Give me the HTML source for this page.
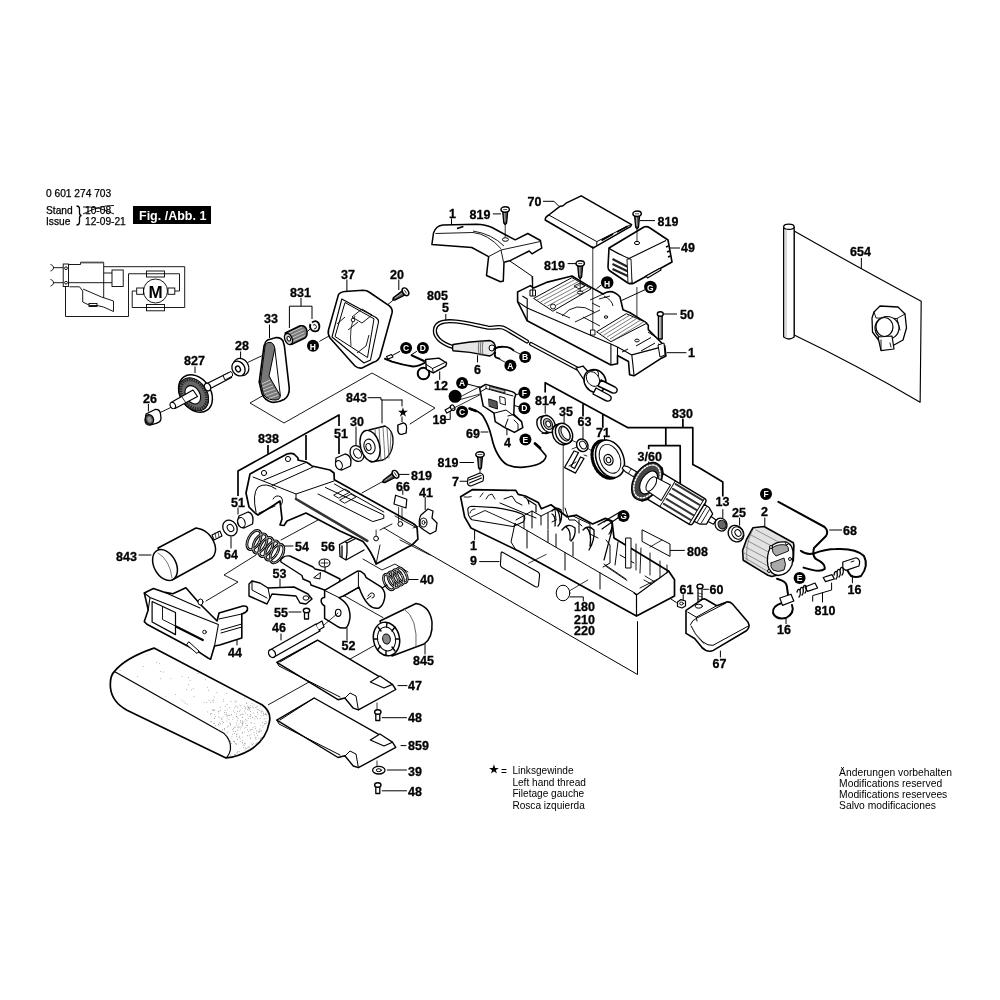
<!DOCTYPE html>
<html><head><meta charset="utf-8"><style>
html,body{margin:0;padding:0;background:#fff;width:1000px;height:1000px;overflow:hidden}
svg{display:block;will-change:transform}
.lb text{font-family:"Liberation Sans",sans-serif;font-weight:bold;font-size:12.5px;fill:#000;stroke:#000;stroke-width:0.3}
.sm text{font-family:"Liberation Sans",sans-serif;font-size:10.2px;fill:#000;stroke:#000;stroke-width:0.25}
</style></head><body>
<svg width="1000" height="1000" viewBox="0 0 1000 1000">
<rect width="1000" height="1000" fill="#fff"/>
<defs>
<g id="scr" stroke="#000" fill="#fff" stroke-linejoin="round">
<path d="M-2.6,1 L2.6,1 L1.4,13.5 L0,15 L-1.4,13.5 Z" stroke-width="1.3" fill="#555"/>
<path d="M-0.6,3 L-0.3,12" stroke="#ddd" stroke-width="0.6"/>
<ellipse cx="0" cy="0" rx="4.2" ry="2.7" stroke-width="1.5"/>
<path d="M-2,0 H2" stroke-width="0.7"/>
</g>
<g id="bolt" stroke="#000" fill="#fff" stroke-linejoin="round">
<path d="M-1.9,1 L1.9,1 L1.9,25 L-1.9,25 Z" stroke-width="1.3" fill="#999"/>
<path d="M-0.5,3 V24" stroke="#eee" stroke-width="0.6"/>
<ellipse cx="0" cy="0" rx="3" ry="2.2" stroke-width="1.4"/>
</g>
<g id="sscr" stroke="#000" fill="#fff" stroke-linejoin="round">
<path d="M-2,1 L2,1 L2,9 L-2,9 Z" stroke-width="1.3"/>
<ellipse cx="0" cy="0.5" rx="3.2" ry="2.2" stroke-width="1.4"/>
</g>
</defs>
<!-- header -->
<g class="sm">
<text x="46" y="197">0 601 274 703</text>
<text x="46" y="214">Stand</text>
<text x="46" y="225">Issue</text>
<text x="85" y="214">10-08</text>
<text x="85" y="225">12-09-21</text>
</g>
<path d="M83,207 Q98,206 114,214 M83,214 Q100,205 114,205.5" stroke="#000" stroke-width="0.9" fill="none"/>
<path d="M76.5,206 Q79.5,206 79.5,209 L79.5,213 Q79.5,215.3 81.5,215.5 Q79.5,215.8 79.5,218 L79.5,222 Q79.5,225 76.5,225" stroke="#000" stroke-width="1.3" fill="none"/>
<rect x="133" y="206" width="78" height="18" fill="#000"/>
<text x="139" y="220" style="font-family:'Liberation Sans';font-weight:bold;font-size:12.5px;fill:#fff">Fig. /Abb. 1</text>
<!-- circuit -->
<g stroke="#000" stroke-width="0.9" fill="none">
<path d="M50.5,264.5 C54.5,265.5 54.5,270 50.5,271 M53,267.7 H63.2 M50.5,279.5 C54.5,280.5 54.5,285 50.5,286 M53,282.7 H63.2"/>
<rect x="63.2" y="264" width="5.3" height="22.5"/>
<circle cx="66" cy="268.2" r="1.4"/><circle cx="66" cy="282.7" r="1.4"/>
<path d="M68.5,264.5 H80.5 V262.5 H103.7 V298 M68.5,282.7 H112 M103.7,266.7 H184.7 V307.5 H132.2 V291 H136.7"/>
<path d="M80.5,262.5 H103.7" stroke-width="1.8" stroke="#555"/>
<rect x="112" y="270" width="11.2" height="16.5"/>
<path d="M103.7,273 H112"/>
<path d="M65.5,286.5 V316.5 H128.5 V273.75 H179.5 V291 H175"/>
<circle cx="155.5" cy="291" r="12"/>
<rect x="136.7" y="288" width="6.8" height="6.3"/><rect x="168" y="288" width="6.8" height="6.3"/>
<rect x="146.5" y="271" width="18" height="6"/><rect x="146.5" y="304.5" width="18" height="6.3"/>
<path d="M69.5,286.8 H79.5 L82.7,291 V302 L90,305.5 H97 L103.5,307 L113.5,311.5 V301 L101.5,297 L83,289"/>
<rect x="89" y="303.5" width="8" height="3"/>
</g>
<text x="148.5" y="297.5" style="font-family:'Liberation Sans';font-weight:bold;font-size:17px">M</text>
<!-- region A: 26, 827, 28, 33, 831, 37, 20 -->
<g stroke="#000" stroke-width="1.3" fill="#fff" stroke-linejoin="round">
<!-- leaders -->
<path d="M195,366.5 V373 M148.4,404 V411.5 M240.6,351.5 V359.5 M269.5,324.5 V338 M301,298 V306.2 M289.4,328 V306.2 H312 V319 M346.9,279.5 V292.3 M398.8,279.5 V290" fill="none" stroke-width="1"/>
<!-- axis lines -->
<path d="M159.6,412.8 L171,407.4 M247.8,362.4 L270.4,351.8 M319.4,341.4 L352,323 M375.8,314.4 L394,299.5 M307,332 L311,328" fill="none" stroke-width="0.9"/>
<!-- roller 26 -->
<path d="M146,414 L155,409.5 Q160,409 160.5,414 L161,418 Q161,422 157,423 L150,425 Q145.5,425.5 145,420.5 Z"/>
<ellipse cx="149.5" cy="419.5" rx="4" ry="5" transform="rotate(-20 149.5 419.5)" fill="#555"/>
<ellipse cx="149.5" cy="419.5" rx="2" ry="3" transform="rotate(-20 149.5 419.5)" fill="#999" stroke="none"/>
<!-- gear 827 -->
<ellipse cx="195.5" cy="393.5" rx="15" ry="20.3" transform="rotate(-35 195.5 393.5)" stroke-width="1.5"/>
<ellipse cx="193.8" cy="394.3" rx="13" ry="18" transform="rotate(-35 193.8 394.3)" fill="#666" stroke="#000" stroke-width="1"/>
<ellipse cx="193.8" cy="394.3" rx="11.5" ry="16" transform="rotate(-35 193.8 394.3)" fill="none" stroke="#222" stroke-width="3.2" stroke-dasharray="1.3 1.1"/>
<ellipse cx="192.8" cy="394.8" rx="7" ry="9.8" transform="rotate(-32 192.8 394.8)" fill="#fff" stroke-width="1.1"/>
<path d="M171,402.5 L193,390 L197.5,396.5 L175,408.5 Z" stroke-width="1.2"/>
<path d="M182,397 L186,403" fill="none" stroke-width="0.8"/>
<ellipse cx="172.8" cy="405.5" rx="2.5" ry="3.3" transform="rotate(-30 172.8 405.5)" stroke-width="1.1"/>
<!-- shaft upper -->
<path d="M206,384 L229,372.5 L231.5,377.5 L208.5,389.5 Z"/>
<path d="M223,375.5 L231,371.5 Q233,373 232.5,376 L225,380 Z" stroke-width="1"/>
<ellipse cx="207.5" cy="387" rx="3" ry="4" transform="rotate(-25 207.5 387)"/>
<!-- bearing 28 -->
<ellipse cx="241" cy="367" rx="7.5" ry="9" transform="rotate(-30 241 367)"/>
<ellipse cx="238.5" cy="368.5" rx="6.2" ry="7.8" transform="rotate(-30 238.5 368.5)"/>
<ellipse cx="238" cy="369" rx="2.3" ry="3" transform="rotate(-30 238 369)"/>
<!-- belt 33 -->
<path d="M264.8,344 Q266,340 270,339.3 L276.4,337.6 Q281,337.3 283,341 L284.4,346 L289.2,387.6 Q289.8,396 284,399.5 Q278,402.8 272,402.3 Q264,400 262,393.5 L259.2,382 L264,346 Z" stroke-width="1.6"/>
<path d="M265.2,345 Q267.5,341.2 271.5,342.6 Q274.5,344.5 274.8,348.5 L269,376 L280.2,395.5 Q280.5,399.5 276,400 Q268,400.5 263.5,394.5 L260.5,382 Z" fill="#777" stroke-width="1"/>
<path d="M262,384 L270,380 M262.5,387 L271.5,383 M263,390 L273,386 M264,393 L275,389 M266,396 L277,392 M269,398.5 L278.5,395" fill="none" stroke="#fff" stroke-width="0.6"/>
<path d="M274.8,348.5 L280.4,396" fill="none" stroke-width="1"/>
<!-- pinion 831 -->
<path d="M285.2,333 L300.2,325.8 Q306,325 307,331 Q307.5,336 305,338 L291.8,344.4 Z" stroke-width="1.5" fill="#777"/>
<path d="M289,333 L302,327 M289.5,336 L303.5,329.5 M290,339 L304.5,332.5 M291,342 L305,335.5" stroke="#eee" stroke-width="0.7" fill="none"/>
<ellipse cx="288.5" cy="339" rx="3.6" ry="5.8" transform="rotate(-25 288.5 339)" stroke-width="1.4" fill="#ccc"/>
<ellipse cx="288.8" cy="338.8" rx="1.6" ry="2.4" transform="rotate(-25 288.8 338.8)" stroke-width="0.9"/>
<!-- nut -->
<path d="M312,322.5 Q316,319.5 318.5,323 Q320.5,327 318,330.5 Q315,332.5 311.5,330 M311.5,330 Q309,327 310.5,324" fill="none" stroke-width="1.8"/>
<path d="M313,325 Q315.5,323.5 316.5,326.5 Q316.5,329 314,329" fill="none" stroke-width="0.9"/>
<!-- H -->
<circle cx="313" cy="345.8" r="6" fill="#000" stroke="none"/>
<!-- cover 37 -->
<path d="M338.4,294.9 Q340,292 345,291.5 L363,290.3 Q367,290.5 369,292 L389.4,305.9 Q393,309 392,313 L380,356.5 Q378,361 374,362 L362,368 Q358,368.5 355,366 L330,338 Q327.5,334 328.5,330 Z" stroke-width="1.6"/>
<path d="M341.8,299 L376,317.5 Q379,319.5 378.5,322 L370.5,360 L364,363 L332,337 Z" stroke-width="1.1"/>
<path d="M345,302.5 L374,318.8 L367.5,357.5 L335,336.5 Z" stroke-width="1"/>
<path d="M352,317 L362,309 L372,315 L362,323 Z M337,324 L345,317 M357,353 L366,346 L369,335 M348,330 L358,322" fill="none" stroke-width="0.9"/>
<path d="M355,316 Q349,327 351,346" fill="none" stroke-width="0.8"/>
<circle cx="353" cy="320" r="1.8" stroke-width="0.9"/>
<!-- screw 20 -->
<use href="#scr" transform="translate(405.5,291.8) rotate(58)"/>
</g>
<text x="309.7" y="349.8" style="font-family:'Liberation Sans';font-weight:bold;font-size:8.5px;fill:#fff">H</text>
<!-- region B: cover1 top, 819, 70, 49, housing top, 50, cord -->
<g stroke="#000" stroke-width="1.3" fill="#fff" stroke-linejoin="round">
<path d="M451.5,218.5 V224.5 M492.8,213.9 H501 M543,201.3 H554 L558.6,206 M567.6,263.6 H576.6 M640,220.6 H655 M596.4,288.8 L600.9,285.2 M621.6,300.5 L645,289.7 M662.5,314 H677 M666.6,352.7 H686.4 M669,248 H680 M509.6,260.8 L532,276.2 L532.7,290" fill="none" stroke-width="1"/>
<!-- cover 1 top -->
<path d="M431.9,244.5 L433.5,233 Q436,225.5 443,225 L476,224.2 Q486,224.5 492,227.5 L504,234 L515.2,239.8 L527.8,233.5 L540.4,240.5 L541.8,248.2 L539,249.6 L532,253.8 L529.2,251 L518,256.6 L509.6,260.8 L504,262.2 L503.3,281.1 L500.5,281.8 L486.5,275.5 L488.6,256.6 L471.8,247.5 Z" stroke-width="1.5"/>
<path d="M435.4,233.5 L473,232.5 Q488,234 501.2,248.9 M473,231 Q492,234 504,246 M488.6,256.6 L501,250 L540.4,241.5 M501,250 L503.5,262" fill="none" stroke-width="0.9"/>
<path d="M457,228.6 L463.4,226.6" stroke-width="1.6"/>
<ellipse cx="505.4" cy="239.5" rx="3" ry="1.8" stroke-width="1"/>
<path d="M505.2,224 V237.5" stroke-width="0.8"/>
<use href="#scr" x="505.2" y="209.5"/>
<!-- cover 70 -->
<path d="M545.2,220 Q545,217 548.8,215 L559.6,206.6 L563,205.8 L566,203.2 L581.2,195.8 L631.6,224.6 L630.4,226.6 L596.8,245.8 L593.2,248 Z" stroke-width="1.5"/>
<path d="M548.8,215 L596.8,241.6 L630.4,224.8 M596.8,241.6 L596.8,245.8" fill="none" stroke-width="1"/>
<path d="M601.5,240.5 L613,234 M617,232 L627.5,226.2" fill="none" stroke-width="1.8"/>
<!-- cover 49 -->
<path d="M609,248 L644,227 Q647,226 650,228 L668,240 L672,262 L634,283 Q631,284.5 628,283 L610,271 Q608,270 608,267 Z" stroke-width="1.6"/>
<path d="M609,248 Q612,251 629,258.5 L666,240.5 M629,258.5 L632,283" fill="none" stroke-width="1.1"/>
<path d="M612.5,259 L629,267.5 M612.5,264 L630,272.5 M612.5,269 L631,277.5" fill="none" stroke="#222" stroke-width="2.2"/>
<path d="M627,259 L631,259 L632,283 L628,283 Z" fill="#fff" stroke-width="0.9"/>
<path d="M646,276 L659.5,268.5 Q661,268.5 661,270 L647.5,278 Z" stroke-width="1.2"/>
<path d="M666,247 L668.5,246 M667,252 L669.5,251 M668,257 L670.5,256" fill="none" stroke-width="1.6"/>
<ellipse cx="637" cy="243" rx="2.6" ry="1.6" stroke-width="1"/>
<path d="M637,229 V241" stroke-width="0.8"/>
<path d="M636.9,287 V339" stroke-width="0.8"/>
<use href="#scr" x="637.1" y="213.8"/>
<!-- housing top 1 -->
<path d="M517.6,292 L520.8,290.4 L530.4,285.6 L533.6,288 L546.4,282.4 L572,276 L588,285.6 L603,294 Q612,288 620,297 L623,309.8 L629.6,312.5 L645,321.9 L648.3,325.2 L648.3,329.6 L656,337.3 L664.8,346.1 L665.9,356 L661.5,358.2 L634,375.8 L629.6,374.7 L628.5,361.5 L617.5,355.5 L617.5,363.7 L610.9,365 L527.2,320.8 L522.4,311.2 L517.6,301.6 Z" stroke-width="1.6"/>
<path d="M517.6,301.6 L527.2,308 L610.9,343.9 M527.2,308 V320.8 M522.4,296 L527.2,299 L527.2,308 M610.9,343.9 V365 M610.9,343.9 L617.5,347 L631.8,354.9 L634,375 M631.8,354.9 L664.8,346.1 M617.5,347 V355.5" fill="none" stroke-width="1.1"/>
<path d="M533.6,298.4 L572,277.6 L591.2,288.8 L552.8,311.2 Z" fill="#fff" stroke-width="1"/>
<path d="M537,300 L575,279.5 M540.5,302 L578.5,281.5 M544,304 L582,283.5 M547.5,306 L585.5,285.5 M551,308 L589,287.5" stroke="#444" stroke-width="0.7" fill="none"/>
<path d="M596.6,331.8 L626.3,313.7 L647.2,323 L610.9,341.7 Z" fill="#fff" stroke-width="1"/>
<path d="M600,333.5 L629.5,315.3 M603.5,335.3 L633,317 M607,337.1 L636.5,318.7 M610,339 L640,320.4 M613,340.5 L643.5,322" stroke="#444" stroke-width="0.7" fill="none"/>
<path d="M636,346 L651,337.5 M641,351 L655,343 M622,352 L628,349 M648,332 L656,337.3 M658,344 L664.8,346.1" fill="none" stroke-width="1"/>
<path d="M658,345 L664,343 L665,355 L660,357 Z" stroke-width="1"/>
<path d="M556,312 L570,318 M562,316 Q576,300 594,312 M575,322 L600,310 M590,300 L604,293.6 M592,303 L600,307 M599,299 L610,296" fill="none" stroke-width="0.9"/>
<path d="M604,296 Q612,300 613,306 M583,317 L600,326" fill="none" stroke-width="0.9"/>
<circle cx="553" cy="306.5" r="2.5" stroke-width="0.9"/>
<ellipse cx="580.2" cy="292.5" rx="2.8" ry="1.6" stroke-width="1"/>
<ellipse cx="606" cy="317" rx="1.8" ry="1.2" stroke-width="1"/>
<ellipse cx="637" cy="340.5" rx="2.2" ry="1.4" stroke-width="1"/>
<path d="M592.8,246 V330" stroke-width="0.8"/>
<path d="M590.5,330 L595,330 L595,335 L590.5,335 Z" stroke-width="0.9"/>
<path d="M532.7,276 V296 M530,296 L535.5,296 L535.5,290 L530,290 Z" fill="none" stroke-width="1"/>
<path d="M574,286 L580,283 L585,286 L579,289 Z" fill="none" stroke-width="0.9"/>
<!-- screw 819 middle -->
<use href="#scr" x="580.2" y="263.5"/>
<path d="M580.2,278 V292" stroke-width="0.8"/>
<!-- screw 50 -->
<use href="#bolt" x="660.3" y="314"/>
<!-- H, G -->
<circle cx="607.2" cy="282.5" r="6.3" fill="#000" stroke="none"/>
<circle cx="650.4" cy="287" r="6.3" fill="#000" stroke="none"/>
</g>
<g style="font-family:'Liberation Sans';font-weight:bold;font-size:8.5px;fill:#fff">
<text x="604" y="286.5">H</text><text x="647" y="290.5">G</text>
</g>
<!-- region C: cord 805, plug, 12, switch 4, 69, 18, circles -->
<g stroke="#000" stroke-width="1.3" fill="#fff" stroke-linejoin="round" stroke-linecap="round">
<!-- leaders -->
<path d="M445.8,314.4 V322.5 M477.5,355.7 V362 M439.7,371.8 V379.5 M444.6,419.4 H450.2 V411 M506.9,427.8 V434.8 M481,432 H488 M399.7,351.5 L391.3,356 M416.5,351.5 L410.9,355 M467,384 L479.6,387.2 M513,395 L519,394 M502,401 L519,407" fill="none" stroke-width="1"/>
<!-- cord loop -->
<path d="M453,347 C440,343 434,336 435,329.5 C436,322 446,320.5 456,321.5 C468,322.5 478,326 488,327.6 C496,328.5 500,325 506,329 L527,341.5" fill="none" stroke="#000" stroke-width="4.2"/>
<path d="M453,347 C440,343 434,336 435,329.5 C436,322 446,320.5 456,321.5 C468,322.5 478,326 488,327.6 C496,328.5 500,325 506,329 L527,341.5" fill="none" stroke="#fff" stroke-width="1.6"/>
<path d="M531,344 L578,369" fill="none" stroke="#000" stroke-width="4.2"/>
<path d="M531,344 L578,369" fill="none" stroke="#fff" stroke-width="1.6"/>
<!-- connector 6 -->
<path d="M453,344.5 Q452,347.5 453,350.8 L470,352.4 L489.6,356 Q495.5,354 495.5,348 Q495,341.5 489.6,340.5 L470,342 Z" stroke-width="1.4" fill="#e6e6e6"/>
<path d="M479,341.2 Q477.5,348 479,355 M481,341 Q479.5,348 481,355.3 M483,340.8 Q481.5,348 483,355.6" stroke="#555" stroke-width="0.8" fill="none"/>
<circle cx="492" cy="348" r="3" stroke-width="1" fill="#fff"/>
<path d="M494,349 Q498,346.5 503.6,346.8 Q509,346.5 513.4,350.3" fill="none" stroke-width="1.8"/>
<path d="M495.2,352.4 Q494,356 496,357.5 L499.4,358.7" fill="none" stroke-width="1.8"/>
<path d="M514,351 L519.7,353.8 M500,359.4 L505,362.2" fill="none" stroke-width="0.9"/>
<!-- plug -->
<path d="M576,368 L583,366 L590,374 L584,380 Z" stroke-width="1.3"/>
<ellipse cx="595" cy="381" rx="10.5" ry="12" transform="rotate(-35 595 381)" stroke-width="1.5"/>
<ellipse cx="593" cy="379" rx="6" ry="8" transform="rotate(-35 593 379)" fill="none" stroke-width="0.9"/>
<path d="M590,371 L596,370 Q600,373 598,376" fill="none" stroke-width="1"/>
<path d="M601,380 L615,387 Q618.5,389 616.5,392 Q614.5,394 611.5,392.5 L598,386 Z" stroke-width="1.4"/>
<path d="M596,388 L609,395 Q612.5,397 610.5,400 Q608.5,402 605.5,400.5 L593,394 Z" stroke-width="1.4"/>
<!-- part 12 -->
<path d="M385,358.8 L392,361.6 Q403,365 413,366.5 Q420,366 426,362" fill="none" stroke-width="2"/>
<path d="M386.5,356.5 L391.5,354.5 L393,357 L388,359 Z" stroke-width="1.1"/>
<path d="M412,355.5 L424,361" fill="none" stroke-width="2"/>
<circle cx="423.5" cy="373.5" r="5.8" fill="none" stroke-width="2"/>
<path d="M425.6,359.5 L438.9,358.1 L446.6,363 L445.9,365.8 L433.3,372.8 L426.3,369.3 Z" stroke-width="1.4"/>
<path d="M426.3,364.5 L432.5,368.5 L446.2,362 M432.5,368.5 L433.3,372.8" fill="none" stroke-width="1"/>
<!-- screw 18 -->
<use href="#sscr" transform="translate(453,407.5) rotate(60) scale(0.9)"/>
<path d="M452,409 L479.6,395 M460,397 L480,386.5 M455,401 L480,394" fill="none" stroke-width="0.8"/>
<!-- switch 4 -->
<path d="M479.6,388 L485.6,384.4 L512,391.6 Q516,393 515.6,395.2 L514.4,398.8 L513.8,414.4 L521.6,421.6 L522.8,427.6 L514.4,432.4 L504.8,427.6 L495.2,421.6 L494,413.2 L483.2,406 Z" stroke-width="1.5"/>
<path d="M481,391.5 L486,388.5 L513,396 M486,388.5 L486,386 M494,413.2 L506,410 L521.6,421.6 M504.8,427.6 L508,419 M513.8,414.4 L508,416" fill="none" stroke-width="1"/>
<path d="M489,399 L497,401.5 L497.5,409 L489.5,406.5 Z" fill="#555" stroke-width="0.9"/>
<path d="M500,396.5 L505,398 L505.5,405 L500.5,403.5 Z" stroke-width="0.9"/>
<path d="M490,386.5 L505,390.5 L505,393 L490,389 Z" fill="#ccc" stroke-width="0.8"/>
<path d="M514,420 L518,424 L518,430" fill="none" stroke-width="0.9"/>
<!-- wire 69 -->
<path d="M471.2,409.6 Q478,410 483,416 Q489,426 491.6,437.2 Q494,448 497.6,454 Q502,462 507.2,464.8 Q515,468 524,467.2 Q538,466 543.2,461.2 Q547,457 545.6,455.2 L538.4,446.8" fill="none" stroke-width="1.7"/>
<path d="M469.5,408.5 L476,411" stroke-width="2.6"/>
<path d="M535,443.5 L540,448" stroke-width="2.8"/>
<!-- nut with star -->
<path d="M398,425 L403.5,423 Q407,424 406.5,429 L406,433 L401,434.5 Q397.5,433.5 398,429 Z" stroke-width="1.2"/>
<path d="M400.5,426.5 L403.5,425.5 L403.5,431.5 L400.5,432.5 Z" stroke-width="1"/>
</g>
<!-- black circles with letters -->
<g fill="#000">
<circle cx="406.1" cy="348" r="6"/><circle cx="422.9" cy="348" r="6"/>
<circle cx="525.1" cy="357.1" r="6"/><circle cx="510.4" cy="365.5" r="6"/>
<circle cx="462.1" cy="383" r="6"/><circle cx="455.1" cy="396.3" r="6.5"/>
<circle cx="462.1" cy="411.7" r="6"/>
<circle cx="524.4" cy="392.8" r="6"/><circle cx="524.4" cy="408.2" r="6"/><circle cx="525.4" cy="439.4" r="6"/>
<circle cx="313" cy="345.8" r="0"/>
</g>
<g style="font-family:'Liberation Sans';font-weight:bold;font-size:8.5px;fill:#fff" text-anchor="middle">
<text x="406.1" y="351.1">C</text><text x="422.9" y="351.1">D</text>
<text x="525.1" y="360.2">B</text><text x="510.4" y="368.6">A</text>
<text x="462.1" y="386.1">A</text><text x="462.1" y="414.8">C</text>
<text x="524.4" y="395.9">F</text><text x="524.4" y="411.3">D</text><text x="525.4" y="442.5">E</text>
</g>
<!-- region D: 814,35,63,71, armature, 830 brackets, stator etc -->
<g stroke="#000" stroke-width="1.3" fill="#fff" stroke-linejoin="round" stroke-linecap="round">
<!-- bracket lines 814/830 -->
<path d="M545.2,392.5 V382.7 L628,427.7 H692.8 V464.6 L700,468.2 L722.8,482 V496.4 M583,404.3 V416.5 M602.8,414.5 V427.7 M682.9,418.7 V427.7 M665.8,427.7 V445.7 M648.7,449.3 V445.7 H680.2 V484.4" fill="none" stroke-width="1.7" stroke-linecap="butt"/>
<path d="M545.2,406 V413.3 M564.1,416 V423.2 M583,426.8 V438.5 M604.5,435.8 V439.4 M648.7,461.9 V466.4 M722.8,509.6 V519 M739.6,518 V525.2 M764.8,518 V527.6 M829.6,530 H841.6 M670,550.4 H684.4 M683.2,594.8 V599.6 M703.6,589.3 H708.4 M720.4,651 V657 M852.4,575.6 V582.8 M786,618.8 V623.6 M812.7,601.2 V595.6 L831.6,590 V583 M822.5,593 V602" fill="none" stroke-width="1"/>
<!-- axis lines -->
<path d="M555,430 L560,432 M571,440 L578,443 M587,448 L594,452 M608.2,460.1 L626.2,469.1 M563.2,443.9 V531" fill="none" stroke-width="0.8"/>
<!-- bearing 814 -->
<ellipse cx="544" cy="425" rx="6.5" ry="9" transform="rotate(-30 544 425)" stroke-width="1.4"/>
<path d="M541,416.5 L547,415 M542,433.5 L550,431.5" fill="none" stroke-width="1"/>
<ellipse cx="548" cy="424" rx="6.5" ry="9" transform="rotate(-30 548 424)" stroke-width="1.4"/>
<ellipse cx="548" cy="424" rx="4.2" ry="6" transform="rotate(-30 548 424)" fill="#aaa" stroke-width="0.9"/>
<ellipse cx="548.3" cy="424" rx="2.2" ry="3" transform="rotate(-30 548.3 424)" fill="#fff" stroke-width="0.9"/>
<!-- ring 35 -->
<ellipse cx="561" cy="434.5" rx="8" ry="10.8" transform="rotate(-28 561 434.5)" stroke-width="1.5"/>
<ellipse cx="564" cy="433.5" rx="8" ry="10.8" transform="rotate(-28 564 433.5)" stroke-width="1.5"/>
<ellipse cx="564.5" cy="433.5" rx="5" ry="8" transform="rotate(-28 564.5 433.5)" fill="#bbb" stroke-width="1"/>
<ellipse cx="565.5" cy="433.2" rx="3.5" ry="7" transform="rotate(-28 565.5 433.2)" fill="#fff" stroke-width="0.9"/>
<!-- washer 63 -->
<ellipse cx="582.3" cy="445.3" rx="5.5" ry="6.5" transform="rotate(-30 582.3 445.3)" stroke-width="1.4"/>
<ellipse cx="583" cy="445" rx="3" ry="4.2" transform="rotate(-30 583 445)" stroke-width="1"/>
<!-- clip -->
<path d="M564.5,467.5 L574,451 L578.5,452.5 L571,466.5 L574.5,468.5 L580.5,457 L584,458.5 L575.5,473 Z" stroke-width="1.3"/>
<path d="M569,466 L576,462 M565,468 L575,473" fill="none" stroke-width="0.9"/>
<path d="M572,449 L577,447 M584,455 L587,456" fill="none" stroke-width="0.8"/>
<!-- gear 71 -->
<ellipse cx="606.5" cy="459.5" rx="13.5" ry="19.5" transform="rotate(-22 606.5 459.5)" fill="#fff" stroke="#000" stroke-width="3.2" stroke-dasharray="2 1.6"/>
<ellipse cx="610" cy="458.8" rx="13.5" ry="19.5" transform="rotate(-22 610 458.8)" stroke-width="1.5"/>
<ellipse cx="610" cy="458.8" rx="10" ry="15" transform="rotate(-22 610 458.8)" stroke-width="0.9"/>
<ellipse cx="608.5" cy="459.8" rx="4.5" ry="5.5" transform="rotate(-22 608.5 459.8)" stroke-width="1.2"/>
<ellipse cx="608.5" cy="460" rx="2.2" ry="2.8" transform="rotate(-22 608.5 460)" stroke-width="1"/>
<!-- armature 3/60 -->
<g transform="translate(623,467) rotate(31)">
<path d="M0,-1.5 L4,-2.8 L22,-3 L22,3 L4,2.8 L0,1.5 Z" stroke-width="1.1"/>
<path d="M8,-2.9 L8,2.9 M14,-3 L14,3" stroke-width="0.7" fill="none"/>
<path d="M38,-15 L86,-15 Q89,-15 89,-12 L89,12 Q89,15 86,15 L38,15 Z" stroke-width="1.4"/>
<path d="M52,-15 L52,15 M86,-15 L86,15" fill="none" stroke-width="0.9"/>
<path d="M54,-12.5 L85,-12.5 M54,-7 L85,-7 M54,-1 L85,-1 M54,5 L85,5 M54,10.5 L85,10.5" fill="none" stroke="#333" stroke-width="2"/>
<path d="M89,-10 L95,-9.5 L101,-6 L101,6 L95,9.5 L89,10 Z" stroke-width="1.2"/>
<path d="M92,-9 L92,9 M96,-8 L96,8" fill="none" stroke-width="0.8"/>
<path d="M101,-3 L107,-2.5 L107,2.5 L101,3 Z" stroke-width="1.1"/>
<path d="M28,-20 L34,-19.5 L38,-15 L38,15 L34,19.5 L28,20" stroke-width="1.3"/>
<ellipse cx="28" cy="0" rx="13" ry="20.5" stroke-width="1.4" fill="#444"/>
<ellipse cx="28" cy="0" rx="11" ry="18" fill="none" stroke="#fff" stroke-width="1.4" stroke-dasharray="1.5 1.6"/>
<ellipse cx="30" cy="0" rx="7.5" ry="12.5" stroke-width="1.1"/>
<path d="M34,-8 L50,-9 L50,9 L34,8 Z" stroke-width="1"/>
<ellipse cx="33" cy="0" rx="4" ry="8" stroke-width="1"/>
</g>
<!-- bearing 13 -->
<ellipse cx="721" cy="524.6" rx="5.8" ry="6.6" transform="rotate(-30 721 524.6)" stroke-width="1.3"/>
<ellipse cx="722" cy="524.6" rx="3.8" ry="4.5" transform="rotate(-30 722 524.6)" fill="#666" stroke-width="1"/>
<!-- bearing 25 -->
<ellipse cx="736" cy="533.6" rx="7.5" ry="8.6" transform="rotate(-35 736 533.6)" stroke-width="1.4"/>
<ellipse cx="737.5" cy="533" rx="5.5" ry="6.5" transform="rotate(-35 737.5 533)" stroke-width="1"/>
<ellipse cx="738" cy="533" rx="2.8" ry="3.5" transform="rotate(-35 738 533)" stroke-width="1"/>
<!-- stator 2 -->
<path d="M753,527.75 L764,526.5 L793.3,542.7 L793.9,545.3 L793.3,560.9 L784.8,573.3 L771.8,576.5 L767.9,575.2 L743.2,560.3 L742.6,550.5 L746.5,539.5 Z" stroke-width="1.6" fill="#e2e2e2"/>
<path d="M756,530 L786,546 M751,535 L781,551 M748,541 L772,554 M745.5,547 L770,560 M744,553 L768,566 M745,558 L767,571" fill="none" stroke="#888" stroke-width="0.9"/>
<path d="M752,531 Q745,545 747,561" fill="none" stroke="#777" stroke-width="0.8"/>
<path d="M770.5,547 Q776,541 786,542 Q794,545 793,556 L792,565 Q788,575 778,575.5 Q770,574 768,566 Q766,556 770.5,547 Z" fill="#fff" stroke-width="1.3"/>
<path d="M772,548 Q778,543.5 786,545 Q789,547 788.5,551 L776,556 Q772,553 772,548 Z" fill="#aaa" stroke-width="0.9"/>
<path d="M771,563 L784,558 Q787,565 784,570 Q778,573 773,570 Q770,567 771,563 Z" fill="#aaa" stroke-width="0.9"/>
<circle cx="771" cy="547" r="1.5" stroke-width="1"/><circle cx="790" cy="559" r="1.5" stroke-width="1"/><circle cx="769" cy="571" r="1.5" stroke-width="1"/><circle cx="787" cy="543.5" r="1.4" stroke-width="1"/>
<!-- wires -->
<path d="M778.4,501.8 L824.6,527 Q829,531 826,536 Q821,541 814,548 Q812,556 816.2,559.2 Q826,564 824.6,569 Q820,573 803.6,567.6" fill="none" stroke-width="2"/>
<path d="M800.8,550.8 Q806,555 813.4,553.6 Q825,549 836,549 Q856,548 864,556 Q869,566 861,576 Q856,578 851.2,576 Q846,570 847,566" fill="none" stroke-width="2"/>
<path d="M777,578.8 Q786,581 786.8,586 L788.2,596" fill="none" stroke-width="2"/>
<path d="M782,603 Q772,606 773,613 Q776,620 786,618 Q795,613 792,605" fill="none" stroke-width="2"/>
<path d="M779.8,598 L791,594.2 L793.8,601 L782.5,605.4 Z" stroke-width="1.2"/>
<path d="M805,587 L815,583 L817.6,588 L807.5,591.4 Z" stroke-width="1.2"/>
<g fill="none" stroke-width="1.3"><path d="M797,592 Q798,588 800,590 Q801,595 799,597 M800,590 Q801,586 803,588 Q804,593 802,595 M803,588 Q804,584 806,586 Q807,591 805,593"/></g>
<path d="M823.2,577.5 L832,574.6 L834.4,579 L825.5,581.6 Z" stroke-width="1.2"/>
<g fill="none" stroke-width="1.3"><path d="M834,575 Q835,570 837,572 Q838,577 836,579 M837,572 Q838,568 840,570 Q841,575 839,577 M840,570 Q841,566 843,568 Q844,573 842,575"/></g>
<path d="M842.8,562 L856,557.8 Q860,559 859.6,563 L859,566 L846,570.4 Q842.5,569 842.8,566 Z" stroke-width="1.2"/>
<path d="M851,562 L854,561" stroke-width="0.9"/>
<!-- label 808 -->
<path d="M642.4,530 L670,544 L670,556.4 L642.4,541.6 Z" stroke-width="1"/>
<path d="M650,547 L662,540" stroke-width="0.8"/>
<!-- nut 61, screw 60 -->
<path d="M677.5,602 L681,599.6 L685.5,601 L685.5,606 L682,608 L677.5,606.5 Z" stroke-width="1.2"/>
<ellipse cx="681.5" cy="603.5" rx="1.8" ry="1.5" stroke-width="0.9"/>
<path d="M698,588 L702,588 L702,601.5 L698,601.5 Z" stroke-width="1.2"/>
<path d="M698,593 L702,594 M698,596 L702,597 M698,599 L702,600" stroke-width="0.6"/>
<ellipse cx="700" cy="586.5" rx="3" ry="2.2" stroke-width="1.5"/>
<!-- cover 67 -->
<path d="M686,610.4 L702.2,599.4 Q704,598.5 705.5,599.3 L716.7,605.7 L726.9,601.9 Q730,601.5 732.5,604 L748.1,622.3 Q750.5,627 746.4,630.8 L713.3,650.4 Q710,652 706,650.5 Q702,648.5 700,645 L694.6,638.5 L686,633.4 Z" stroke-width="1.6"/>
<path d="M690.5,624.5 Q692,620 697,618 L726,603 M691,626 Q694,634 703,642 Q708,646 713,645.3 L747.5,626.5 M687.8,612.1 L696.3,617.2 L715.8,606.2 M696.3,617.2 L697,621" fill="none" stroke-width="1"/>
<path d="M692,627 Q696,637 704,644" fill="none" stroke="#666" stroke-width="0.8"/>
<ellipse cx="698.8" cy="606.2" rx="3.6" ry="2" stroke-width="1"/>
</g>
<g fill="#000">
<circle cx="623.5" cy="515.9" r="6"/><circle cx="766" cy="494" r="6"/><circle cx="799.6" cy="578" r="6"/>
</g>
<g style="font-family:'Liberation Sans';font-weight:bold;font-size:8.5px;fill:#fff" text-anchor="middle">
<text x="623.5" y="519">G</text><text x="766" y="497.1">F</text><text x="799.6" y="581.1">E</text>
</g>
<!-- region E: housing bottom 1 -->
<g stroke="#000" stroke-width="1.3" fill="#fff" stroke-linejoin="round" stroke-linecap="round">
<path d="M474.6,529.6 V539.5 M479.6,561.6 H499 M570,596.9 H583.3 V601 M372,521 L637.5,674.5 V621.6 M659.3,591.2 L676.4,602.6" fill="none" stroke-width="1"/>
<!-- main housing outline -->
<path d="M460.6,496.8 L472.6,489.6 L515.8,490.4 L518.2,494.4 L525.4,496 L538.2,502.4 L541.4,508.8 L551,504.8 L567,516.8 L576.6,515.2 L592.6,524 L605.4,518.4 L612,521 L614,538 L668.8,571.25 L674.5,579.8 L674.5,596 L636.5,615.9 L519,551.2 L471,528 L464.6,516.8 Z" stroke-width="1.7"/>
<!-- front face -->
<path d="M634,593 L636.5,595 L668.8,571.25 M636.5,595 V615.9" fill="none" stroke-width="1.2"/>

<!-- left shell recess -->
<path d="M468,511 Q467,506.5 472,506.2 L495.5,507.6 Q514,510.5 522.5,514.2 Q527,518 523,522 L513,526.5 L472,519.8 Q468,517 468,511 Z" stroke-width="1.1"/>
<path d="M471,517 L485,510.5 L516,524.5 M470,513 Q471,509 475,509" fill="none" stroke-width="0.9"/>
<path d="M464,497 Q468,497.5 471.2,496.7 M486,499 Q488,494 492,494 L495,499 M480,497 L483,493" fill="none" stroke-width="0.9"/>
<path d="M504,499 L512,496 L516,502 L522,505 M500,503 L536,518" fill="none" stroke-width="1"/>
<!-- interior ribs -->
<clipPath id="hclip"><path d="M500,480 L690,480 L690,574 L668.8,571.5 L636.5,594 L515,523.5 L500,515 Z"/></clipPath>
<g fill="none" stroke-width="1" clip-path="url(#hclip)">


<path d="M516,520 L532,511 L541,516 L541,525 M532,511 L532,528 M524,516 L524,532 M541,516 L555,509 L556,520 M548,513 V529 M556,520 L552,522"/>
<path d="M528,500 L536,505 L536,512 M524,497 Q528,498 529,504" stroke-width="1.2"/>
<path d="M552,511 Q556,506 561,510 Q563,520 558,526 M556,509 Q560,512 560,522 M552,514 Q556,516 555,526" stroke-width="1.3"/>
<path d="M562,530 Q568,522 575,528 Q576,536 571,541 M566,527 Q571,530 570,540" stroke-width="1.3"/>
<path d="M565,508 L569,520 L575,520 L582,526 M573,516 L590,524 L590,534 M579,520 L579,533"/>
<path d="M548,530 L548,546 M556,534 L556,550 M573,542 L573,556 M590,534 L598,538"/>
<path d="M583,530 Q588,524 594,530 Q595,540 589,550 M587,528 Q592,533 590,546" stroke-width="1.3"/>
<path d="M598,525 L620,512 L622,515 L602,529 M604,522 Q609,518 612,524 Q612,530 609,534 M612,530 L604,560" stroke-width="1.2"/>
<path d="M606,540 L610,545 L610,563 L603,567 M618,542 L615,565 M620,555 L634,563"/>
<path d="M626,538 L631,538 L631,568 L626,568 Z" fill="#fff"/>
<path d="M636,544 V570 M641,548 L640,573 M650,553 L650,575 M660,561 V586 M667,565 V590 M645,576 L668,590 M604,564 L626,579 M605.5,566 L627,580.5 M644,580 L655,586 L652,590 M640,588 L660,578" stroke-width="0.9"/>
<path d="M648,594 L648,605 M655,590 V603 M662,588 V600" stroke-width="0.9"/>
</g>
<path d="M515,523.5 L636.5,594 M515,523.5 L511,542 L516,550 M527,530.5 V548 M565,552.5 V570 M600,573 V589" fill="none" stroke-width="1"/>
<!-- label 9 -->
<path d="M502,552 L538,572 Q540,573.5 539.5,576 L538.5,585.5 Q538,588 535,586.5 L502,567.5 Q500,566 500.5,563.5 L501,555 Q501,551.5 502,552 Z" stroke-width="1.1"/>
<path d="M528.6,563.2 L546.2,554.4" fill="none" stroke-width="0.8"/>
<!-- circle 180 -->
<ellipse cx="563" cy="593" rx="6.8" ry="7.8" stroke-width="1"/>
<path d="M570.2,590.4 L587.8,580" fill="none" stroke-width="0.8"/>
</g>
<!-- region F: frame 838, 51, 30, pulley 843, nut*, 819, 66, 41, 7, spring 40 -->
<g stroke="#000" stroke-width="1.3" fill="#fff" stroke-linejoin="round" stroke-linecap="round">
<!-- bracket 838 -->
<path d="M238,496 V471 L339,415 V426 M306,435 V460 M339,438 V454 M268,445 V454" fill="none" stroke-width="1.7" stroke-linecap="butt"/>
<path d="M238,508 V514 M356,427 V446 M382,400 V423 M402,400 V406 M402,417 V422 M399,474.4 H409 M402.8,490.4 V494.4 M425.2,497.6 V509.6 M406,579.5 H418 M460,462.5 H473.5 M460,481.25 H467.5 M368,397.7 H381 V400 H402" fill="none" stroke-width="1"/>
<!-- tray lines -->
<path d="M264,395 L250,403 L284,423 L372,373 L435,408 L410,424 M382.7,481.5 L361.8,493 M270,300 M363,559 L382,570 L395,564 L408,572" fill="none" stroke-width="0.9"/>
<!-- frame 838 -->
<path d="M339.5,544.5 L345,541.5 L347,543 L347,553 L346,560 L340,556.5 Z M345,541.5 L366,530 M347,543 L366,533 M346,560 L364,550 M339.5,544.5 L360,533.5 M342,546 L342,557" stroke-width="1.3"/>
<path d="M250,474 L287,454 Q292,452.5 294.5,454.5 L298,458 L298,460 L306,462 Q310,464 312,466 L330,470 L334,473 L334.3,479.8 L413.5,523.8 Q417,526 417.2,529 L417.9,539.2 L412.4,544.7 L408,547 L376.1,564 Q372,552 363,541.5 L340,531 L306,513 L287,521 L284,525.5 L280,525 L282,519 L280,501 L274,505 L258,515 L255,513 L249,507 L246,493 Z" stroke-width="1.7"/>
<path d="M253,477 L296,494 L334,481 M296,494 L296,499 M264,480 L306,462.5 M272,485.5 L313,467" fill="none" stroke-width="1"/>
<path d="M256,512 Q252,494 258,487 Q266,482 276,489 M259,513 L275,506" fill="none" stroke-width="1"/>
<path d="M273,499 Q276,494 281,497 Q284,501 281,505" fill="none" stroke-width="1"/>
<path d="M296,499 L367.3,540.8" fill="none" stroke="#333" stroke-width="2.6"/>
<path d="M334.5,484 L383.8,512 M325.5,487.5 L383.8,515 L383.8,518.3 L372.8,521.6 L318,494" fill="none" stroke-width="1"/>
<path d="M334,495 L345,489 L350,492 L339,498 Z M340,500 L351,494 L356,497 L345,503 Z" fill="none" stroke-width="0.9"/>
<path d="M395,516 L417,528 M384,528 L412,544.7 M380,530 L392,524" fill="none" stroke-width="0.9"/>
<circle cx="264" cy="473" r="2.6" stroke-width="1"/><circle cx="288" cy="459" r="2.6" stroke-width="1"/>
<circle cx="400.3" cy="524" r="2.4" stroke-width="1"/><circle cx="376.1" cy="538.5" r="2.4" stroke-width="1"/>
<path d="M398.6,507.5 V521.5 M376.1,530 V536" fill="none" stroke-width="0.8"/>
<path d="M400,540 L430,555 M368,548 L376,563 M380,545 L376.1,564" fill="none" stroke-width="0.9"/>
<!-- roller 51 upper -->
<path d="M336,458 L345,454 Q351,455 351,462 L350.5,466 L342,470 Q335.5,469.5 335.5,463 Z" stroke-width="1.3"/>
<ellipse cx="339" cy="465" rx="3.2" ry="4.5" transform="rotate(-20 339 465)" stroke-width="1.1"/>
<!-- roller 51 lower -->
<path d="M239,516 L248,512 Q253,513 253,520 L252.5,524 L244,528 Q237.5,527.5 237.5,521 Z" stroke-width="1.3"/>
<ellipse cx="241.5" cy="522.5" rx="3.5" ry="5" transform="rotate(-20 241.5 522.5)" stroke-width="1.1"/>
<!-- washer 30 -->
<ellipse cx="357" cy="453.5" rx="6.5" ry="8.3" transform="rotate(-30 357 453.5)" stroke-width="1.3"/>
<ellipse cx="357.5" cy="453.5" rx="3.5" ry="5" transform="rotate(-30 357.5 453.5)" stroke-width="1"/>
<!-- pulley 843 upper -->
<path d="M369,430 L385,426 Q394,430 393,443 Q392,456 383,460 L371,462 Z" stroke-width="1.3"/>
<path d="M375,428.5 L377,461 M379,427.5 L381,461 M383,427 L385,460 M387,428 L389,458 M391,432 L390,453" fill="none" stroke="#555" stroke-width="0.8"/>
<ellipse cx="370" cy="446" rx="9.5" ry="16" transform="rotate(-15 370 446)" stroke-width="1.4"/>
<ellipse cx="369.5" cy="446.5" rx="5.5" ry="7.5" transform="rotate(-15 369.5 446.5)" stroke-width="1.1"/>
<ellipse cx="368.5" cy="447" rx="2.5" ry="3.5" transform="rotate(-15 368.5 447)" stroke-width="1"/>
<!-- nut star -->
<path d="M398,425 L403.5,423 Q407,424 406.5,429 L406,433 L401,434.5 Q397.5,433.5 398,429 Z" stroke-width="1.2"/>
<!-- screw 819 near 41 -->
<use href="#scr" transform="translate(395.5,474.3) rotate(58)"/>
<!-- label 66 -->
<path d="M395.6,495.2 L406.8,499.2 L406,508 L394,504 Z" stroke-width="1.2"/>
<path d="M402,508 V520" fill="none" stroke-width="0.8"/>
<!-- knob 41 -->
<path d="M421,515 L428,509 L433,511 L432,518 L437,523 L436,531 L430,534 L424,530 L420,527 Q418,520 421,515 Z" stroke-width="1.3"/>
<ellipse cx="423.5" cy="522.5" rx="3.5" ry="4.5" stroke-width="1.1"/>
<ellipse cx="423.5" cy="522.5" rx="1.5" ry="2" stroke-width="0.9"/>
<path d="M419,526 L413,528" fill="none" stroke-width="0.8"/>
<!-- screw 819 + part 7 -->
<use href="#scr" x="480" y="454.5"/>
<path d="M480,470 V480" stroke-width="0.8"/>
<path d="M468,478 L480,473 Q484,474 483.5,478 L483,481 L471,486 Q467,485.5 467.5,482 Z" fill="#fff" stroke-width="1.2"/>
<path d="M469,480 L481,475.5 M469.5,483 L481.5,478" stroke="#000" stroke-width="1.2" fill="none"/>
<!-- spring 40 -->
<g fill="none" stroke="#000" stroke-width="2.6">
<ellipse cx="389" cy="582" rx="4.5" ry="8.5" transform="rotate(-28 389 582)"/>
<ellipse cx="393.5" cy="579.7" rx="4.5" ry="8.5" transform="rotate(-28 393.5 579.7)"/>
<ellipse cx="398" cy="577.4" rx="4.5" ry="8.5" transform="rotate(-28 398 577.4)"/>
<ellipse cx="402" cy="575.3" rx="4.3" ry="8.2" transform="rotate(-28 402 575.3)"/>
</g>
<g fill="none" stroke="#fff" stroke-width="0.6">
<ellipse cx="389" cy="582" rx="4.5" ry="8.5" transform="rotate(-28 389 582)"/>
<ellipse cx="393.5" cy="579.7" rx="4.5" ry="8.5" transform="rotate(-28 393.5 579.7)"/>
<ellipse cx="398" cy="577.4" rx="4.5" ry="8.5" transform="rotate(-28 398 577.4)"/>
<ellipse cx="402" cy="575.3" rx="4.3" ry="8.2" transform="rotate(-28 402 575.3)"/>
</g>
<path d="M382,588 L387,585" stroke-width="1.2"/>
</g>
<text x="397.5" y="416" style="font-family:'Liberation Sans';font-weight:bold;font-size:11px">★</text>
<!-- region G: lower-left parts -->
<g stroke="#000" stroke-width="1.3" fill="#fff" stroke-linejoin="round" stroke-linecap="round">
<path d="M139,555 H151 M231,537 V548 M282,546 H293 M280,579 V588 M289,612 H301 M281,634 V640 M347,628 V640 M425,639 V654 M237,636 V645 M398,685.6 H407 M382.2,717.7 H406.5 M401,745.6 H406 M387.3,770 H406.5 M382.2,790.8 H406.5 M325,567 V585" fill="none" stroke-width="1"/>
<!-- tray line 54 group -->
<path d="M256,555 L224,575 L238,582 L206,601 M339,592.8 L383,617.6 M386,639 L268.3,704.8" fill="none" stroke-width="0.9"/>
<!-- drive roller 843 -->
<path d="M158,548 L196,528 Q210,530 215,545 Q217,553 212,558 L172,580 Z" stroke-width="1.5"/>
<ellipse cx="165" cy="565" rx="11" ry="16.5" transform="rotate(-28 165 565)" stroke-width="1.5"/>
<path d="M158,553 Q170,560 172,578" fill="none" stroke="#666" stroke-width="0.9"/>
<path d="M212,535 L220,531 L222,536 L214,540 Z" stroke-width="1.1"/>
<path d="M215,533 L216,538 M218,532 L219,537" stroke-width="0.7"/>
<!-- washer 64 -->
<ellipse cx="230" cy="528" rx="6.8" ry="8.2" transform="rotate(-35 230 528)" stroke-width="1.3"/>
<ellipse cx="230.5" cy="528" rx="3" ry="3.8" transform="rotate(-35 230.5 528)" stroke-width="1"/>
<!-- spring 54 -->
<path d="M281,540 L318,520" fill="none" stroke-width="0.9"/>
<g fill="none" stroke="#000" stroke-width="2.7">
<ellipse cx="254" cy="540" rx="5.8" ry="10.5" transform="rotate(28 254 540)"/>
<ellipse cx="260" cy="543.5" rx="5.8" ry="10.5" transform="rotate(28 260 543.5)"/>
<ellipse cx="266" cy="547" rx="5.8" ry="10.5" transform="rotate(28 266 547)"/>
<ellipse cx="272" cy="550.5" rx="5.8" ry="10.5" transform="rotate(28 272 550.5)"/>
<ellipse cx="277" cy="553.5" rx="5.6" ry="10.2" transform="rotate(28 277 553.5)"/>
</g>
<g fill="none" stroke="#fff" stroke-width="0.6">
<ellipse cx="254" cy="540" rx="5.8" ry="10.5" transform="rotate(28 254 540)"/>
<ellipse cx="260" cy="543.5" rx="5.8" ry="10.5" transform="rotate(28 260 543.5)"/>
<ellipse cx="266" cy="547" rx="5.8" ry="10.5" transform="rotate(28 266 547)"/>
<ellipse cx="272" cy="550.5" rx="5.8" ry="10.5" transform="rotate(28 272 550.5)"/>
<ellipse cx="277" cy="553.5" rx="5.6" ry="10.2" transform="rotate(28 277 553.5)"/>
</g>
<!-- lever plate (upper arm) -->
<path d="M283,557.5 Q285,555.5 290,556 L313,567 L315,569 L324,571 L340,579 L338,588 L330,592 L311,585 L310,582 L303,579 L302,575.5 L281,562 Q280,559 283,557.5 Z" stroke-width="1.4"/>
<path d="M314,577.5 L320.5,572.5 L320,578.5 Z" stroke-width="1"/>
<!-- washer 56 -->
<ellipse cx="324.5" cy="563" rx="5.5" ry="4" stroke-width="1.2"/>
<path d="M321,563 H328 M324.5,560 V566" stroke-width="0.8"/>
<!-- bracket 52 -->
<path d="M324.6,590.4 L357.4,571.2 Q359,570.5 361,571.5 L364.6,574.4 L366.2,577.6 L381.4,587.2 Q386,592 384.6,598.4 Q383,606 379,608 Q373,609 369,605 Q363,599 359,587.2 L343.4,596 L339,597.6 Q347,603 348.6,608 Q351,616 349.4,620.8 Q348,627 345.4,628 Q340,628.5 337.4,626.4 L324.6,618.4 L324.6,606 Q320,603 321.5,599 Q323,597 324.6,597.5 Z" stroke-width="1.5"/>
<path d="M324.6,590.4 L339,597.6 M358.4,572.5 V587 M343.4,596 L359,587.2" fill="none" stroke-width="1"/>
<ellipse cx="338.2" cy="612.8" rx="2.8" ry="3.6" stroke-width="1.1"/>
<path d="M368,596 Q371,591 374,594 Q375,598 372,598 M371,596 L367,599" fill="none" stroke-width="1"/>
<!-- lever 53 -->
<path d="M249,584 L252,581 L260,583 L268,588 L294,587 L308,594 L312,599 L306,604 L300,603 L296,596 L272,594 L270,598 L267,604 L249,596 Z" stroke-width="1.4"/>
<path d="M252,581 L252,590 L267,598 M268,588 L270,598" fill="none" stroke-width="1"/>
<ellipse cx="306" cy="598" rx="3" ry="2.2" stroke-width="1"/>
<!-- screw 55 -->
<use href="#sscr" x="306.5" y="610"/>
<!-- pin 46 -->
<path d="M270,650 L316,624 L320,631 L274,657 Z" stroke-width="1.4"/>
<ellipse cx="272" cy="653.5" rx="3.2" ry="4.2" transform="rotate(-30 272 653.5)" stroke-width="1.3"/>
<path d="M316,624.5 L322,621 L324,627 L319,630" stroke-width="1.2"/>
<path d="M324,625 L338,613" fill="none" stroke-width="0.8"/>
<!-- bracket 44 -->
<path d="M144.3,593 L153.4,588.5 L165.1,592.4 L172.9,593.7 L185.9,587.8 L200,604 L217.1,621 L219,613 L243,606 Q248,605.5 247.5,609.5 Q247,612 243,613.5 L241.8,614 L241.8,638 L219.7,645 L214.5,646 L210.6,659.3 L208,658 L200.2,652.8 L146.9,624.2 L144.3,621.6 L148.2,609.9 Z" stroke-width="1.6"/>
<path d="M144.3,593 L150,597.5 L218.4,624.5 M150,597.5 L148.2,609.9 M218.4,624.5 L214.5,646 M165.1,592.4 L200,608" fill="none" stroke-width="1.1"/>
<path d="M152.1,601.5 L175.5,612.5 L175.5,634.6 L152.1,622 Z" fill="none" stroke-width="1.2"/>
<path d="M162.5,606.5 L162.5,619.5 L175.5,626" fill="none" stroke-width="0.9"/>
<path d="M176,626.5 L202.8,640" fill="none" stroke-width="2.2"/>
<path d="M219,619 L241.8,614 M221,630 L241.8,624 M221,633 L241.8,627" fill="none" stroke-width="1"/>
<path d="M189,642 L199,651 L197,653.5 L187,645 Z" stroke-width="1"/>
<circle cx="204.5" cy="632" r="1.8" stroke-width="0.9"/>
<ellipse cx="200.5" cy="602" rx="2.5" ry="3" stroke-width="1"/>
<!-- roller 845 -->
<path d="M380,621 L416,603.5 Q430,606 432,622 Q433,638 424,644 L392,656 Z" stroke-width="1.5"/>
<path d="M404,609 Q418,618 416,647" fill="none" stroke="#555" stroke-width="0.9"/>
<ellipse cx="386.5" cy="639" rx="13" ry="17" transform="rotate(-12 386.5 639)" stroke-width="1.5"/>
<ellipse cx="386.5" cy="639" rx="9" ry="12" transform="rotate(-12 386.5 639)" stroke-width="1"/>
<ellipse cx="386.5" cy="639" rx="3.8" ry="5" transform="rotate(-12 386.5 639)" stroke-width="1" fill="#888"/>
<path d="M387,622.5 L386.5,627 M386,651 L386,655.5 M374,639 L377.5,639 M395.5,639 L399,639 M378,627 L381,631 M392,647 L395,651 M377.5,650 L380.5,646 M392,631 L395,627" stroke-width="1.4"/>
<!-- plate 47 -->
<path d="M276.8,662.3 L317.6,640.2 L392.4,684.4 L395.8,689.5 L358.4,709.9 L353.3,708.2 L344.8,698 L338,699.7 Z" stroke-width="1.4"/>
<path d="M276.8,662.3 L279,666 L340,697 M317.6,640.2 L280,662" fill="none" stroke-width="1"/>
<path d="M370.3,682 L380,676 L392.4,684.4 L384,688 Z" stroke-width="1.2"/>
<path d="M345,698 L350,693 L356,696 L358.4,709.9" fill="none" stroke-width="1"/>
<path d="M377,703 V710" stroke-width="0.8"/>
<!-- screw 48 -->
<use href="#sscr" x="377.8" y="711.5"/>
<!-- plate 859 -->
<path d="M276.8,720.1 L314.2,698 L392.4,742.2 L395.8,747.3 L358.4,767.7 L353.3,766 L344.8,755.8 L338,757.5 Z" stroke-width="1.4"/>
<path d="M276.8,720.1 L279,724 L340,755 M314.2,698 L280,720" fill="none" stroke-width="1"/>
<path d="M370.3,740 L380,734 L392.4,742.2 L384,746 Z" stroke-width="1.2"/>
<path d="M345,756 L350,751 L356,754 L358.4,767.7" fill="none" stroke-width="1"/>
<!-- washer 39 -->
<ellipse cx="378.8" cy="770.2" rx="6.2" ry="3.8" stroke-width="1.3"/>
<ellipse cx="378.8" cy="770.2" rx="2.5" ry="1.5" stroke-width="1"/>
<path d="M377,761 V766" stroke-width="0.8"/>
<!-- screw 48 lower -->
<use href="#sscr" x="377.8" y="784.5"/>
<!-- sanding belt -->
<path d="M154,648.1 L262,704.8 Q272,712 269.2,722.8 Q266,740 250,750 Q238,757 226,757.9 L127,710.2 Q112,702 110.5,688 Q109.5,676 114.4,671.5 Q125,658 154,648.1 Z" stroke-width="1.7"/>
<path d="M114.4,671.5 L224.2,733.6 Q231,740 230.5,749 Q229.5,755 226,757.9" fill="none" stroke-width="1.2"/>
</g>
<g fill="#666" stroke="none">
<circle cx="230.5" cy="724.5" r="0.45"/>
<circle cx="255.9" cy="737.2" r="0.45"/>
<circle cx="244.4" cy="731.9" r="0.45"/>
<circle cx="234.4" cy="733.5" r="0.45"/>
<circle cx="245.0" cy="721.1" r="0.45"/>
<circle cx="258.2" cy="738.1" r="0.45"/>
<circle cx="213.0" cy="709.7" r="0.45"/>
<circle cx="252.7" cy="717.2" r="0.45"/>
<circle cx="242.6" cy="742.9" r="0.45"/>
<circle cx="214.2" cy="696.9" r="0.45"/>
<circle cx="237.4" cy="720.4" r="0.45"/>
<circle cx="227.1" cy="704.5" r="0.45"/>
<circle cx="220.3" cy="710.2" r="0.45"/>
<circle cx="256.5" cy="707.0" r="0.45"/>
<circle cx="261.3" cy="731.0" r="0.45"/>
<circle cx="248.1" cy="707.5" r="0.45"/>
<circle cx="240.1" cy="710.0" r="0.45"/>
<circle cx="259.1" cy="731.8" r="0.45"/>
<circle cx="247.2" cy="729.7" r="0.45"/>
<circle cx="243.1" cy="722.8" r="0.45"/>
<circle cx="250.5" cy="737.9" r="0.45"/>
<circle cx="263.7" cy="713.9" r="0.45"/>
<circle cx="259.9" cy="729.0" r="0.45"/>
<circle cx="249.9" cy="716.4" r="0.45"/>
<circle cx="224.4" cy="729.7" r="0.45"/>
<circle cx="242.3" cy="723.6" r="0.45"/>
<circle cx="257.4" cy="706.1" r="0.45"/>
<circle cx="246.7" cy="703.6" r="0.45"/>
<circle cx="230.9" cy="738.6" r="0.45"/>
<circle cx="263.3" cy="715.6" r="0.45"/>
<circle cx="265.9" cy="721.5" r="0.45"/>
<circle cx="256.6" cy="733.6" r="0.45"/>
<circle cx="235.7" cy="743.8" r="0.45"/>
<circle cx="249.5" cy="747.1" r="0.45"/>
<circle cx="266.0" cy="723.5" r="0.45"/>
<circle cx="237.4" cy="711.2" r="0.45"/>
<circle cx="267.7" cy="725.6" r="0.45"/>
<circle cx="233.2" cy="731.2" r="0.45"/>
<circle cx="267.7" cy="725.1" r="0.45"/>
<circle cx="255.3" cy="728.3" r="0.45"/>
<circle cx="262.6" cy="722.4" r="0.45"/>
<circle cx="228.3" cy="715.6" r="0.45"/>
<circle cx="235.2" cy="700.9" r="0.45"/>
<circle cx="242.7" cy="733.4" r="0.45"/>
<circle cx="259.0" cy="731.6" r="0.45"/>
<circle cx="257.6" cy="718.7" r="0.45"/>
<circle cx="233.4" cy="741.6" r="0.45"/>
<circle cx="246.7" cy="702.9" r="0.45"/>
<circle cx="236.8" cy="725.0" r="0.45"/>
<circle cx="206.8" cy="702.5" r="0.45"/>
<circle cx="230.2" cy="742.0" r="0.45"/>
<circle cx="230.6" cy="725.0" r="0.45"/>
<circle cx="247.9" cy="747.4" r="0.45"/>
<circle cx="229.6" cy="740.3" r="0.45"/>
<circle cx="255.3" cy="737.9" r="0.45"/>
<circle cx="242.6" cy="717.5" r="0.45"/>
<circle cx="255.6" cy="707.6" r="0.45"/>
<circle cx="251.1" cy="742.9" r="0.45"/>
<circle cx="261.1" cy="737.2" r="0.45"/>
<circle cx="252.6" cy="717.6" r="0.45"/>
<circle cx="245.3" cy="713.0" r="0.45"/>
<circle cx="238.1" cy="726.2" r="0.45"/>
<circle cx="250.7" cy="707.5" r="0.45"/>
<circle cx="243.2" cy="745.0" r="0.45"/>
<circle cx="240.2" cy="741.6" r="0.45"/>
<circle cx="230.9" cy="701.5" r="0.45"/>
<circle cx="266.0" cy="718.6" r="0.45"/>
<circle cx="240.2" cy="714.9" r="0.45"/>
<circle cx="244.5" cy="728.1" r="0.45"/>
<circle cx="249.0" cy="710.1" r="0.45"/>
<circle cx="256.4" cy="731.0" r="0.45"/>
<circle cx="242.2" cy="721.0" r="0.45"/>
<circle cx="229.7" cy="707.8" r="0.45"/>
<circle cx="254.0" cy="732.5" r="0.45"/>
<circle cx="237.8" cy="730.2" r="0.45"/>
<circle cx="246.0" cy="727.4" r="0.45"/>
<circle cx="223.6" cy="722.5" r="0.45"/>
<circle cx="242.2" cy="742.3" r="0.45"/>
<circle cx="227.6" cy="715.1" r="0.45"/>
<circle cx="231.9" cy="736.6" r="0.45"/>
<circle cx="247.4" cy="709.2" r="0.45"/>
<circle cx="218.6" cy="711.6" r="0.45"/>
<circle cx="214.4" cy="714.6" r="0.45"/>
<circle cx="222.9" cy="716.9" r="0.45"/>
<circle cx="255.0" cy="726.8" r="0.45"/>
<circle cx="261.2" cy="709.1" r="0.45"/>
<circle cx="234.2" cy="727.0" r="0.45"/>
<circle cx="236.5" cy="743.6" r="0.45"/>
<circle cx="251.2" cy="734.1" r="0.45"/>
<circle cx="234.6" cy="742.0" r="0.45"/>
<circle cx="245.8" cy="723.6" r="0.45"/>
<circle cx="245.3" cy="748.0" r="0.45"/>
<circle cx="227.2" cy="718.6" r="0.45"/>
<circle cx="223.8" cy="701.4" r="0.45"/>
<circle cx="239.2" cy="751.8" r="0.45"/>
<circle cx="204.0" cy="702.5" r="0.45"/>
<circle cx="240.0" cy="705.2" r="0.45"/>
<circle cx="263.7" cy="713.3" r="0.45"/>
<circle cx="266.8" cy="722.8" r="0.45"/>
<circle cx="255.3" cy="716.2" r="0.45"/>
<circle cx="244.7" cy="706.2" r="0.45"/>
<circle cx="248.8" cy="731.2" r="0.45"/>
<circle cx="207.6" cy="711.9" r="0.45"/>
<circle cx="260.3" cy="725.1" r="0.45"/>
<circle cx="230.7" cy="755.0" r="0.45"/>
<circle cx="259.4" cy="710.6" r="0.45"/>
<circle cx="219.0" cy="711.1" r="0.45"/>
<circle cx="218.1" cy="712.9" r="0.45"/>
<circle cx="245.3" cy="707.4" r="0.45"/>
<circle cx="237.6" cy="739.2" r="0.45"/>
<circle cx="212.8" cy="700.7" r="0.45"/>
<circle cx="264.1" cy="719.0" r="0.45"/>
<circle cx="224.6" cy="712.5" r="0.45"/>
<circle cx="254.4" cy="734.9" r="0.45"/>
<circle cx="236.6" cy="714.0" r="0.45"/>
<circle cx="248.9" cy="746.8" r="0.45"/>
<circle cx="222.7" cy="721.5" r="0.45"/>
<circle cx="262.9" cy="727.0" r="0.45"/>
<circle cx="257.0" cy="709.6" r="0.45"/>
<circle cx="244.7" cy="710.9" r="0.45"/>
<circle cx="250.6" cy="716.0" r="0.45"/>
<circle cx="210.8" cy="721.8" r="0.45"/>
<circle cx="224.6" cy="728.7" r="0.45"/>
<circle cx="234.5" cy="707.9" r="0.45"/>
<circle cx="240.4" cy="722.0" r="0.45"/>
<circle cx="242.2" cy="736.9" r="0.45"/>
<circle cx="263.0" cy="725.8" r="0.45"/>
<circle cx="250.2" cy="730.6" r="0.45"/>
<circle cx="218.6" cy="730.4" r="0.45"/>
<circle cx="247.4" cy="725.8" r="0.45"/>
<circle cx="218.7" cy="716.9" r="0.45"/>
<circle cx="260.1" cy="718.7" r="0.45"/>
<circle cx="237.9" cy="751.4" r="0.45"/>
<circle cx="235.8" cy="754.7" r="0.45"/>
<circle cx="214.1" cy="710.4" r="0.45"/>
<circle cx="256.3" cy="717.0" r="0.45"/>
<circle cx="258.0" cy="714.1" r="0.45"/>
<circle cx="260.3" cy="738.5" r="0.45"/>
<circle cx="210.5" cy="702.3" r="0.45"/>
<circle cx="245.2" cy="743.8" r="0.45"/>
<circle cx="245.0" cy="750.1" r="0.45"/>
<circle cx="245.4" cy="708.8" r="0.45"/>
<circle cx="228.6" cy="725.9" r="0.45"/>
<circle cx="230.2" cy="741.0" r="0.45"/>
<circle cx="264.8" cy="724.0" r="0.45"/>
<circle cx="237.1" cy="733.9" r="0.45"/>
<circle cx="244.7" cy="743.2" r="0.45"/>
<circle cx="234.5" cy="754.7" r="0.45"/>
<circle cx="241.0" cy="706.0" r="0.45"/>
<circle cx="253.2" cy="743.5" r="0.45"/>
<circle cx="213.5" cy="723.3" r="0.45"/>
<circle cx="238.9" cy="723.9" r="0.45"/>
<circle cx="240.2" cy="738.6" r="0.45"/>
<circle cx="232.7" cy="719.6" r="0.45"/>
<circle cx="213.6" cy="699.9" r="0.45"/>
<circle cx="242.0" cy="725.7" r="0.45"/>
<circle cx="257.5" cy="743.5" r="0.45"/>
<circle cx="226.4" cy="714.8" r="0.45"/>
<circle cx="225.1" cy="710.3" r="0.45"/>
<circle cx="250.3" cy="705.6" r="0.45"/>
<circle cx="236.8" cy="706.4" r="0.45"/>
<circle cx="265.0" cy="714.8" r="0.45"/>
<circle cx="260.0" cy="730.2" r="0.45"/>
<circle cx="211.9" cy="713.6" r="0.45"/>
<circle cx="236.7" cy="701.1" r="0.45"/>
<circle cx="211.9" cy="721.8" r="0.45"/>
<circle cx="246.3" cy="748.7" r="0.45"/>
<circle cx="247.2" cy="714.7" r="0.45"/>
<circle cx="248.9" cy="708.3" r="0.45"/>
<circle cx="261.3" cy="712.1" r="0.45"/>
<circle cx="225.2" cy="706.2" r="0.45"/>
<circle cx="227.4" cy="727.0" r="0.45"/>
<circle cx="248.3" cy="707.7" r="0.45"/>
<circle cx="212.7" cy="709.9" r="0.45"/>
<circle cx="260.3" cy="706.0" r="0.45"/>
<circle cx="220.3" cy="723.8" r="0.45"/>
<circle cx="221.3" cy="718.7" r="0.45"/>
<circle cx="239.1" cy="737.7" r="0.45"/>
<circle cx="225.0" cy="714.8" r="0.45"/>
<circle cx="232.7" cy="729.8" r="0.45"/>
<circle cx="220.1" cy="707.2" r="0.45"/>
<circle cx="237.9" cy="707.8" r="0.45"/>
<circle cx="266.6" cy="714.7" r="0.45"/>
<circle cx="242.4" cy="732.2" r="0.45"/>
<circle cx="261.1" cy="716.0" r="0.45"/>
<circle cx="233.5" cy="711.0" r="0.45"/>
<circle cx="236.2" cy="716.8" r="0.45"/>
<circle cx="232.5" cy="734.2" r="0.45"/>
<circle cx="242.0" cy="723.4" r="0.45"/>
<circle cx="235.5" cy="706.1" r="0.45"/>
<circle cx="229.4" cy="742.5" r="0.45"/>
<circle cx="238.0" cy="718.6" r="0.45"/>
<circle cx="213.1" cy="702.6" r="0.45"/>
<circle cx="227.0" cy="732.9" r="0.45"/>
<circle cx="236.1" cy="722.8" r="0.45"/>
<circle cx="258.1" cy="709.3" r="0.45"/>
<circle cx="236.4" cy="744.4" r="0.45"/>
<circle cx="214.6" cy="723.2" r="0.45"/>
<circle cx="242.3" cy="708.6" r="0.45"/>
<circle cx="231.7" cy="714.9" r="0.45"/>
<circle cx="262.1" cy="711.0" r="0.45"/>
<circle cx="236.7" cy="734.7" r="0.45"/>
<circle cx="218.9" cy="725.0" r="0.45"/>
<circle cx="255.9" cy="743.9" r="0.45"/>
<circle cx="257.2" cy="742.2" r="0.45"/>
<circle cx="244.6" cy="745.1" r="0.45"/>
<circle cx="243.2" cy="714.1" r="0.45"/>
<circle cx="263.0" cy="711.9" r="0.45"/>
<circle cx="236.4" cy="736.3" r="0.45"/>
<circle cx="221.9" cy="719.3" r="0.45"/>
<circle cx="233.2" cy="717.4" r="0.45"/>
<circle cx="235.7" cy="754.8" r="0.45"/>
<circle cx="261.2" cy="711.8" r="0.45"/>
<circle cx="266.1" cy="711.9" r="0.45"/>
<circle cx="242.5" cy="724.3" r="0.45"/>
<circle cx="247.0" cy="720.8" r="0.45"/>
<circle cx="227.0" cy="716.2" r="0.45"/>
<circle cx="240.4" cy="728.9" r="0.45"/>
<circle cx="250.6" cy="711.3" r="0.45"/>
<circle cx="248.7" cy="707.0" r="0.45"/>
<circle cx="254.2" cy="723.4" r="0.45"/>
<circle cx="253.0" cy="727.4" r="0.45"/>
<circle cx="258.8" cy="732.0" r="0.45"/>
<circle cx="260.9" cy="739.5" r="0.45"/>
<circle cx="245.5" cy="719.3" r="0.45"/>
<circle cx="241.1" cy="714.3" r="0.45"/>
<circle cx="250.5" cy="714.5" r="0.45"/>
<circle cx="226.3" cy="721.1" r="0.45"/>
<circle cx="265.7" cy="713.6" r="0.45"/>
<circle cx="240.5" cy="720.5" r="0.45"/>
<circle cx="227.0" cy="709.1" r="0.45"/>
<circle cx="247.4" cy="735.7" r="0.45"/>
<circle cx="214.6" cy="718.6" r="0.45"/>
<circle cx="239.7" cy="727.1" r="0.45"/>
<circle cx="242.8" cy="721.9" r="0.45"/>
<circle cx="225.7" cy="734.6" r="0.45"/>
<circle cx="223.4" cy="699.7" r="0.45"/>
<circle cx="242.1" cy="740.5" r="0.45"/>
<circle cx="256.0" cy="739.7" r="0.45"/>
<circle cx="204.9" cy="721.9" r="0.45"/>
<circle cx="218.3" cy="724.5" r="0.45"/>
<circle cx="214.3" cy="718.1" r="0.45"/>
<circle cx="230.0" cy="747.9" r="0.45"/>
<circle cx="267.8" cy="725.7" r="0.45"/>
<circle cx="250.3" cy="738.5" r="0.45"/>
<circle cx="243.6" cy="747.6" r="0.45"/>
<circle cx="231.3" cy="714.4" r="0.45"/>
<circle cx="235.1" cy="727.2" r="0.45"/>
<circle cx="219.3" cy="722.9" r="0.45"/>
<circle cx="251.5" cy="723.1" r="0.45"/>
<circle cx="267.1" cy="714.9" r="0.45"/>
<circle cx="239.6" cy="711.4" r="0.45"/>
<circle cx="234.2" cy="741.3" r="0.45"/>
<circle cx="254.9" cy="718.9" r="0.45"/>
<circle cx="257.5" cy="712.3" r="0.45"/>
<circle cx="256.6" cy="743.6" r="0.45"/>
<circle cx="236.9" cy="753.1" r="0.45"/>
<circle cx="251.7" cy="729.4" r="0.45"/>
<circle cx="250.5" cy="718.4" r="0.45"/>
<circle cx="228.6" cy="741.1" r="0.45"/>
<circle cx="229.1" cy="719.7" r="0.45"/>
<circle cx="257.7" cy="735.3" r="0.45"/>
<circle cx="237.5" cy="752.7" r="0.45"/>
<circle cx="264.7" cy="723.6" r="0.45"/>
<circle cx="211.0" cy="713.5" r="0.45"/>
<circle cx="222.5" cy="729.7" r="0.45"/>
<circle cx="247.6" cy="705.9" r="0.45"/>
<circle cx="250.1" cy="729.1" r="0.45"/>
<circle cx="228.0" cy="732.0" r="0.45"/>
<circle cx="229.7" cy="723.1" r="0.45"/>
<circle cx="238.0" cy="727.5" r="0.45"/>
<circle cx="252.6" cy="744.8" r="0.45"/>
<circle cx="254.0" cy="704.9" r="0.45"/>
<circle cx="235.6" cy="731.5" r="0.45"/>
<circle cx="252.6" cy="729.6" r="0.45"/>
<circle cx="249.2" cy="709.8" r="0.45"/>
<circle cx="249.8" cy="708.0" r="0.45"/>
<circle cx="214.8" cy="709.9" r="0.45"/>
<circle cx="241.1" cy="727.0" r="0.45"/>
<circle cx="253.4" cy="707.7" r="0.45"/>
<circle cx="265.3" cy="714.7" r="0.45"/>
<circle cx="233.4" cy="728.5" r="0.45"/>
<circle cx="235.0" cy="702.6" r="0.45"/>
<circle cx="222.2" cy="723.9" r="0.45"/>
<circle cx="248.2" cy="718.4" r="0.45"/>
<circle cx="239.7" cy="736.6" r="0.45"/>
<circle cx="246.9" cy="725.3" r="0.45"/>
<circle cx="252.0" cy="744.9" r="0.45"/>
<circle cx="226.2" cy="712.8" r="0.45"/>
<circle cx="234.9" cy="712.8" r="0.45"/>
<circle cx="209.0" cy="700.2" r="0.45"/>
<circle cx="231.4" cy="743.3" r="0.45"/>
<circle cx="215.3" cy="725.5" r="0.45"/>
<circle cx="213.2" cy="710.5" r="0.45"/>
<circle cx="249.8" cy="735.8" r="0.45"/>
<circle cx="252.5" cy="706.6" r="0.45"/>
<circle cx="253.9" cy="713.0" r="0.45"/>
<circle cx="250.9" cy="722.4" r="0.45"/>
<circle cx="261.3" cy="739.4" r="0.45"/>
<circle cx="229.6" cy="715.3" r="0.45"/>
<circle cx="159.4" cy="663.7" r="0.45"/>
<circle cx="194.0" cy="696.8" r="0.45"/>
<circle cx="226.8" cy="693.3" r="0.45"/>
<circle cx="147.0" cy="654.6" r="0.45"/>
<circle cx="137.7" cy="676.4" r="0.45"/>
<circle cx="198.1" cy="673.3" r="0.45"/>
<circle cx="182.0" cy="699.9" r="0.45"/>
<circle cx="187.9" cy="704.1" r="0.45"/>
<circle cx="120.1" cy="670.4" r="0.45"/>
<circle cx="205.6" cy="679.8" r="0.45"/>
<circle cx="184.0" cy="701.7" r="0.45"/>
<circle cx="160.9" cy="678.7" r="0.45"/>
<circle cx="244.8" cy="698.0" r="0.45"/>
<circle cx="175.7" cy="694.5" r="0.45"/>
<circle cx="182.1" cy="676.6" r="0.45"/>
<circle cx="156.7" cy="662.7" r="0.45"/>
<circle cx="165.4" cy="696.1" r="0.45"/>
<circle cx="190.1" cy="680.6" r="0.45"/>
<circle cx="207.5" cy="687.8" r="0.45"/>
<circle cx="185.3" cy="703.2" r="0.45"/>
<circle cx="236.7" cy="716.6" r="0.45"/>
<circle cx="188.6" cy="684.7" r="0.45"/>
<circle cx="186.5" cy="689.5" r="0.45"/>
<circle cx="188.4" cy="677.5" r="0.45"/>
<circle cx="143.1" cy="666.5" r="0.45"/>
<circle cx="237.5" cy="717.1" r="0.45"/>
<circle cx="215.4" cy="716.6" r="0.45"/>
<circle cx="219.3" cy="717.6" r="0.45"/>
<circle cx="252.0" cy="703.4" r="0.45"/>
<circle cx="242.4" cy="714.1" r="0.45"/>
<circle cx="230.2" cy="723.1" r="0.45"/>
<circle cx="208.6" cy="690.3" r="0.45"/>
<circle cx="170.9" cy="678.4" r="0.45"/>
<circle cx="210.7" cy="714.7" r="0.45"/>
<circle cx="216.8" cy="692.4" r="0.45"/>
<circle cx="160.8" cy="671.5" r="0.45"/>
<circle cx="254.9" cy="701.3" r="0.45"/>
<circle cx="163.3" cy="672.0" r="0.45"/>
<circle cx="191.3" cy="690.0" r="0.45"/>
<circle cx="193.2" cy="688.7" r="0.45"/>
</g>
<!-- region H: filter bag 654 -->
<g stroke="#000" stroke-width="1.3" fill="#fff" stroke-linejoin="round" stroke-linecap="round">
<path d="M861.35,258.3 V270.5" fill="none" stroke-width="1"/>
<path d="M794.15,231 Q852,264 921.2,301.35 L920.15,402.15 Q855,364 794.15,334.95 Z" stroke-width="1.15"/>
<path d="M783.65,227 L783.65,337 Q788.9,341 794.15,337 L794.15,227" stroke-width="1.3"/>
<ellipse cx="788.9" cy="226.8" rx="5.2" ry="2.6" stroke-width="1.2"/>
<path d="M786,229.5 V338" fill="none" stroke="#999" stroke-width="0.8"/>
<!-- ring fitting -->
<path d="M874,312 L880,306 L898,307 L905,314 L906.5,328 L903,340 L894,345 L880,342 L872.5,332 L872,318 Z" stroke-width="1.3"/>
<path d="M874,312 L876,318 L897,318.5 L905,314 M897,318.5 L900,330" fill="none" stroke-width="0.9"/>
<ellipse cx="887" cy="328" rx="12" ry="11.5" stroke-width="1.2"/>
<ellipse cx="884.5" cy="327" rx="8.5" ry="9.5" stroke-width="1.2"/>
<path d="M878,337 L892,336 L894,349 L881,350.7 Z" stroke-width="1.2"/>
<path d="M881,340 L881,350 M890,343 L891,347" fill="none" stroke-width="0.9"/>
</g>
<!-- legend -->
<g style="font-family:'Liberation Sans';font-size:10.1px;fill:#000">
<text x="501" y="775">=</text>
<text x="512.4" y="773.8">Linksgewinde</text>
<text x="512.4" y="785.6">Left hand thread</text>
<text x="512.4" y="797.3">Filetage gauche</text>
<text x="512.4" y="809">Rosca izquierda</text>
</g>
<g style="font-family:'Liberation Sans';font-size:10.3px;fill:#000">
<text x="839.1" y="775.6">Änderungen vorbehalten</text>
<text x="839.1" y="786.6">Modifications reserved</text>
<text x="839.1" y="797.7">Modifications reservees</text>
<text x="839.1" y="808.6">Salvo modificaciones</text>
</g>
<text x="488.5" y="773" style="font-family:'Liberation Sans';font-weight:bold;font-size:10.5px">★</text>

<g class="lb">
<text x="449" y="218">1</text>
<text x="469.5" y="219">819</text>
<text x="527.5" y="205.5">70</text>
<text x="657.5" y="225.5">819</text>
<text x="681" y="251.5">49</text>
<text x="544" y="269.5">819</text>
<text x="680" y="319">50</text>
<text x="688" y="356.5">1</text>
<text x="850" y="255.5">654</text>
<text x="341" y="278.5">37</text>
<text x="390" y="278.5">20</text>
<text x="290" y="297">831</text>
<text x="264" y="323">33</text>
<text x="427" y="299.5">805</text>
<text x="442" y="312">5</text>
<text x="474" y="373.5">6</text>
<text x="434" y="389.5">12</text>
<text x="235" y="350">28</text>
<text x="184" y="365">827</text>
<text x="143" y="403">26</text>
<text x="258" y="443">838</text>
<text x="334" y="438">51</text>
<text x="346" y="402">843</text>
<text x="350" y="425.5">30</text>
<text x="432.5" y="423.5">18</text>
<text x="535" y="404.5">814</text>
<text x="559" y="415.5">35</text>
<text x="577.5" y="425.5">63</text>
<text x="596" y="437">71</text>
<text x="672" y="418">830</text>
<text x="637.5" y="461">3/60</text>
<text x="466" y="437.5">69</text>
<text x="504" y="447">4</text>
<text x="411" y="479.5">819</text>
<text x="437.5" y="467">819</text>
<text x="452" y="485.5">7</text>
<text x="396" y="490.5">66</text>
<text x="419" y="497">41</text>
<text x="231" y="506.5">51</text>
<text x="116" y="560.5">843</text>
<text x="224" y="558.5">64</text>
<text x="295" y="550.5">54</text>
<text x="321" y="550.5">56</text>
<text x="272.5" y="577.5">53</text>
<text x="420" y="584">40</text>
<text x="274" y="617">55</text>
<text x="272" y="632">46</text>
<text x="228" y="656.5">44</text>
<text x="341.5" y="649.5">52</text>
<text x="413" y="664.5">845</text>
<text x="408" y="689.5">47</text>
<text x="408" y="722">48</text>
<text x="408" y="750">859</text>
<text x="408" y="775.5">39</text>
<text x="408" y="795.5">48</text>
<text x="470" y="550">1</text>
<text x="470" y="565">9</text>
<text x="574" y="611">180</text>
<text x="574" y="624">210</text>
<text x="574" y="635">220</text>
<text x="687" y="555.5">808</text>
<text x="715.5" y="506">13</text>
<text x="732" y="516.5">25</text>
<text x="761" y="515.5">2</text>
<text x="843" y="534.5">68</text>
<text x="679.5" y="593.5">61</text>
<text x="709.5" y="593.5">60</text>
<text x="847.5" y="593.5">16</text>
<text x="814.5" y="615">810</text>
<text x="777" y="634">16</text>
<text x="712.5" y="668">67</text>
</g>
</svg>
</body></html>
